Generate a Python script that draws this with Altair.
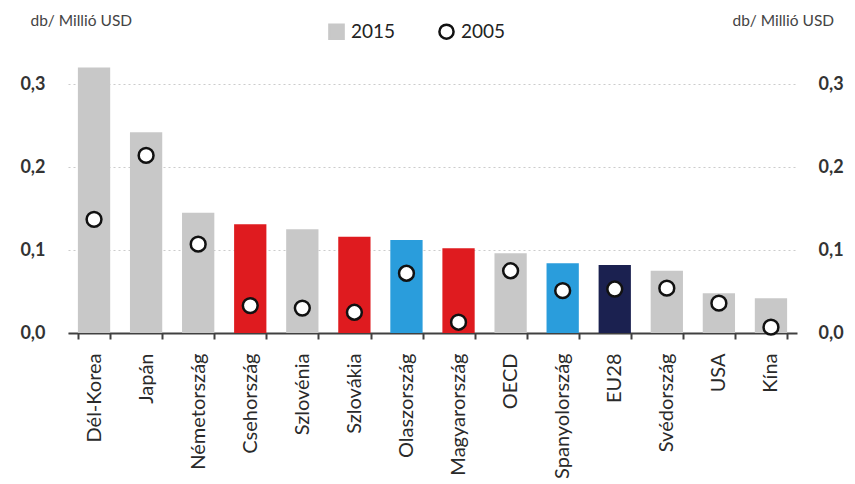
import altair as alt
import pandas as pd

countries = ["Dél-Korea", "Japán", "Németország", "Csehország", "Szlovénia", "Szlovákia",
             "Olaszország", "Magyarország", "OECD", "Spanyolország", "EU28", "Svédország",
             "USA", "Kína"]
v2015 = [0.320, 0.242, 0.145, 0.131, 0.125, 0.116, 0.112, 0.102, 0.096, 0.084, 0.082, 0.075, 0.048, 0.042]
v2005 = [0.137, 0.214, 0.107, 0.033, 0.030, 0.025, 0.072, 0.013, 0.075, 0.051, 0.053, 0.054, 0.036, 0.007]
groups = ["egyéb", "egyéb", "egyéb", "V4", "egyéb", "V4", "Dél-Európa", "V4", "egyéb",
          "Dél-Európa", "EU28", "egyéb", "egyéb", "egyéb"]

group_domain = ["egyéb", "V4", "Dél-Európa", "EU28"]
group_colors = ["#c8c8c8", "#df1b1f", "#2a9ddc", "#1b2150"]
series_domain = ["2015", "2005"]

df = pd.DataFrame({
    "orszag": countries,
    "v2015": v2015,
    "v2005": v2005,
    "csoport": groups,
    "sorozat": ["2005"] * len(countries),
})

FONT = "Lato"
fmt = "replace(format(datum.value, '.1f'), '.', ',')"
ytitle = "db/ Millió USD"

x_enc = alt.X(
    "orszag:N", sort=countries,
    scale=alt.Scale(paddingInner=0.38, paddingOuter=0.19),
    axis=alt.Axis(title=None, labelAngle=-90, labelFontSize=20, labelColor="#2a2a2a",
                  labelPadding=14, tickBand="extent", tickSize=6, tickWidth=2,
                  tickColor="#404040", domainColor="#404040", domainWidth=2,
                  grid=False, labelFont=FONT),
)
yscale = alt.Scale(domain=[0, 0.335], nice=False)

bars = alt.Chart(df).mark_bar().encode(
    x=x_enc,
    y=alt.Y("v2015:Q", scale=yscale,
            axis=alt.Axis(orient="left", values=[0, 0.1, 0.2, 0.3], labelExpr=fmt,
                          grid=True, gridDash=[2, 3], gridColor="#cccccc", gridWidth=1.2,
                          domain=False, ticks=False, labelPadding=23, labelFontSize=18,
                          labelFontWeight="bold", labelAlign="right",
                          labelColor="#333333", labelFont=FONT,
                          title=ytitle, titleAngle=0, titleX=-38, titleY=-35,
                          titleAlign="left", titleBaseline="middle", titleFontSize=15.5,
                          titleFontWeight="normal", titleColor="#444444", titleFont=FONT)),
    color=alt.Color("csoport:N", scale=alt.Scale(domain=group_domain, range=group_colors),
                    legend=None),
)

leg = alt.Legend(title=None, orient="none", legendX=259, legendY=-33, direction="horizontal",
                 labelFontSize=19, labelColor="#222222", labelFont=FONT, symbolSize=200,
                 symbolStrokeWidth=2.5, columnPadding=38, padding=0, labelOffset=5)

pts = alt.Chart(df).mark_point(filled=True, size=220, strokeWidth=2.5, opacity=1).encode(
    x=x_enc,
    y=alt.Y("v2005:Q", scale=yscale,
            axis=alt.Axis(orient="right", values=[0, 0.1, 0.2, 0.3], labelExpr=fmt,
                          grid=False, domain=False, ticks=False, labelPadding=21,
                          labelAlign="left", labelFontSize=18, labelFontWeight="bold",
                          labelColor="#333333", labelFont=FONT,
                          title=ytitle, titleAngle=0, titleX=-65, titleY=-35,
                          titleAlign="left", titleBaseline="middle", titleFontSize=15.5,
                          titleFontWeight="normal", titleColor="#444444", titleFont=FONT)),
    shape=alt.Shape("sorozat:N", scale=alt.Scale(domain=series_domain, range=["square", "circle"]), legend=leg),
    fill=alt.Fill("sorozat:N", scale=alt.Scale(domain=series_domain, range=["#c8c8c8", "#ffffff"]), legend=leg),
    stroke=alt.Stroke("sorozat:N", scale=alt.Scale(domain=series_domain, range=["#c8c8c8", "#111111"]), legend=leg),
)

chart = alt.layer(bars, pts).resolve_scale(y="shared").resolve_axis(y="independent").properties(
    width=729, height=278,
    autosize=alt.AutoSizeParams(type="none"),
    padding={"left": 68, "top": 55, "right": 58, "bottom": 151},
    background="white",
).configure_view(stroke=None)

chart.save("out.html", embed_options={"renderer": "svg", "actions": False})
